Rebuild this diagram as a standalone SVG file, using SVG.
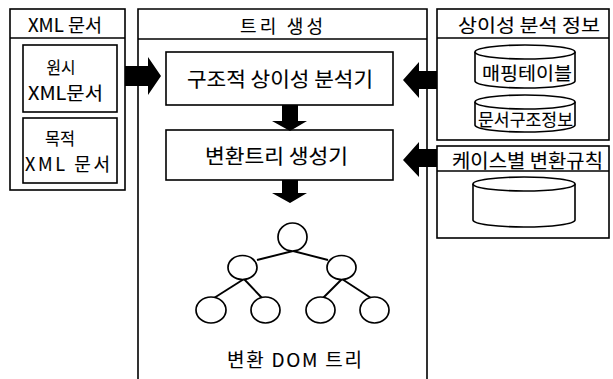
<svg xmlns="http://www.w3.org/2000/svg" width="613" height="379" viewBox="0 0 613 379">
<style>
.box{fill:#fff;stroke:#000;stroke-width:1.6}
.ln{fill:none;stroke:#000;stroke-width:1.6}
.cyl{fill:#fff;stroke:#000;stroke-width:1.6}
.t{font-family:"Noto Sans CJK KR","Noto Sans",sans-serif;fill:#000;text-anchor:middle;stroke:#000;stroke-width:0.12}
.arr{fill:#000;stroke:none}
.node{fill:#fff;stroke:#000;stroke-width:1.7}
.edge{stroke:#000;stroke-width:1.9;fill:none}
</style>
<rect width="613" height="379" fill="#fff"/>
<g id="xml-docs">
<rect class="box" x="10" y="9" width="115" height="181"/>
<line class="ln" x1="10" y1="38" x2="125" y2="38"/>
<text class="t" x="65" y="32" font-size="18" textLength="74" lengthAdjust="spacingAndGlyphs">XML 문서</text>
</g>
<g id="source-doc">
<rect class="box" x="23" y="45" width="94" height="67"/>
<text class="t" x="61" y="74" font-size="16.5" textLength="29" lengthAdjust="spacingAndGlyphs">원시</text>
<text class="t" x="65.5" y="100" font-size="18" textLength="75" lengthAdjust="spacingAndGlyphs">XML문서</text>
</g>
<g id="target-doc">
<rect class="box" x="23" y="118" width="94" height="65"/>
<text class="t" x="60" y="145" font-size="16.5" textLength="30" lengthAdjust="spacingAndGlyphs">목적</text>
<text class="t" x="67.5" y="171" font-size="18" textLength="85" lengthAdjust="spacing">XML 문서</text>
</g>
<g id="tree-gen">
<path class="ln" d="M138,380 V9 H427 V380"/>
<line class="ln" x1="138" y1="39" x2="427" y2="39"/>
<text class="t" x="281.5" y="33" font-size="18" textLength="83" lengthAdjust="spacing">트리 생성</text>
</g>
<g id="analyzer">
<rect class="box" x="166" y="52" width="227" height="53"/>
<text class="t" x="280" y="87" font-size="20" textLength="186" lengthAdjust="spacingAndGlyphs">구조적 상이성 분석기</text>
</g>
<g id="tree-builder">
<rect class="box" x="166" y="130" width="227" height="50"/>
<text class="t" x="276.5" y="164" font-size="20" textLength="143" lengthAdjust="spacingAndGlyphs">변환트리 생성기</text>
</g>
<g id="diff-info">
<rect class="box" x="437" y="9" width="172" height="131"/>
<line class="ln" x1="437" y1="38" x2="609" y2="38"/>
<text class="t" x="529" y="32" font-size="18.5" textLength="142" lengthAdjust="spacingAndGlyphs">상이성 분석 정보</text>
</g>
<g id="mapping-table">
<path class="cyl" d="M475,52 A50,7 0 0 1 575,52 V81 A50,7 0 0 1 475,81 Z"/>
<path class="cyl" d="M475,52 A50,7 0 0 0 575,52"/>
<text class="t" x="527" y="80" font-size="18" textLength="90" lengthAdjust="spacingAndGlyphs">매핑테이블</text>
</g>
<g id="doc-structure">
<path class="cyl" d="M475,102 A50,7 0 0 1 575,102 V125 A50,7 0 0 1 475,125 Z"/>
<path class="cyl" d="M475,102 A50,7 0 0 0 575,102"/>
<text class="t" x="525.5" y="126" font-size="16.5" textLength="95" lengthAdjust="spacingAndGlyphs">문서구조정보</text>
</g>
<g id="case-rules">
<rect class="box" x="437" y="146" width="172" height="92"/>
<line class="ln" x1="437" y1="171" x2="609" y2="171"/>
<text class="t" x="527.5" y="168" font-size="19" textLength="151" lengthAdjust="spacingAndGlyphs">케이스별 변환규칙</text>
</g>
<g id="rules-db">
<path class="cyl" d="M473,184 A51,7 0 0 1 575,184 V220 A51,7 0 0 1 473,220 Z"/>
<path class="cyl" d="M473,184 A51,7 0 0 0 575,184"/>
</g>
<g id="dom-tree">
<g id="tree-edges">
<line class="edge" x1="293" y1="251" x2="257" y2="260"/>
<line class="edge" x1="293" y1="251" x2="328" y2="260"/>
<line class="edge" x1="244" y1="279" x2="214" y2="298"/>
<line class="edge" x1="244" y1="279" x2="262" y2="298"/>
<line class="edge" x1="342" y1="279" x2="323" y2="298"/>
<line class="edge" x1="342" y1="279" x2="371" y2="298"/>
</g>
<ellipse class="node" cx="292.5" cy="237" rx="14.5" ry="14"/>
<ellipse class="node" cx="242.5" cy="267.5" rx="14.5" ry="12"/>
<ellipse class="node" cx="341.5" cy="267.5" rx="14.5" ry="12"/>
<ellipse class="node" cx="211" cy="310" rx="15" ry="13"/>
<ellipse class="node" cx="265.5" cy="310" rx="14.5" ry="13"/>
<ellipse class="node" cx="320.5" cy="310" rx="14.5" ry="13"/>
<ellipse class="node" cx="374.5" cy="310" rx="14.5" ry="13"/>
<text class="t" x="294.5" y="367" font-size="19" textLength="135" lengthAdjust="spacing">변환 DOM 트리</text>
</g>
<g id="connectors">
<path class="arr" d="M125,66 H148 V57 L161,76 L148,95 V86 H125 Z"/>
<path class="arr" d="M437,71 H419 V62 L403,80 L419,98 V89 H437 Z"/>
<path class="arr" d="M437,149 H419 V142 L403,160 L419,177 V167 H437 Z"/>
<path class="arr" d="M282,105 V121 H272 L290,131 L307,121 H298 V105 Z"/>
<path class="arr" d="M282,180 V193 H272 L290,203 L307,193 H298 V180 Z"/>
</g>
</svg>
